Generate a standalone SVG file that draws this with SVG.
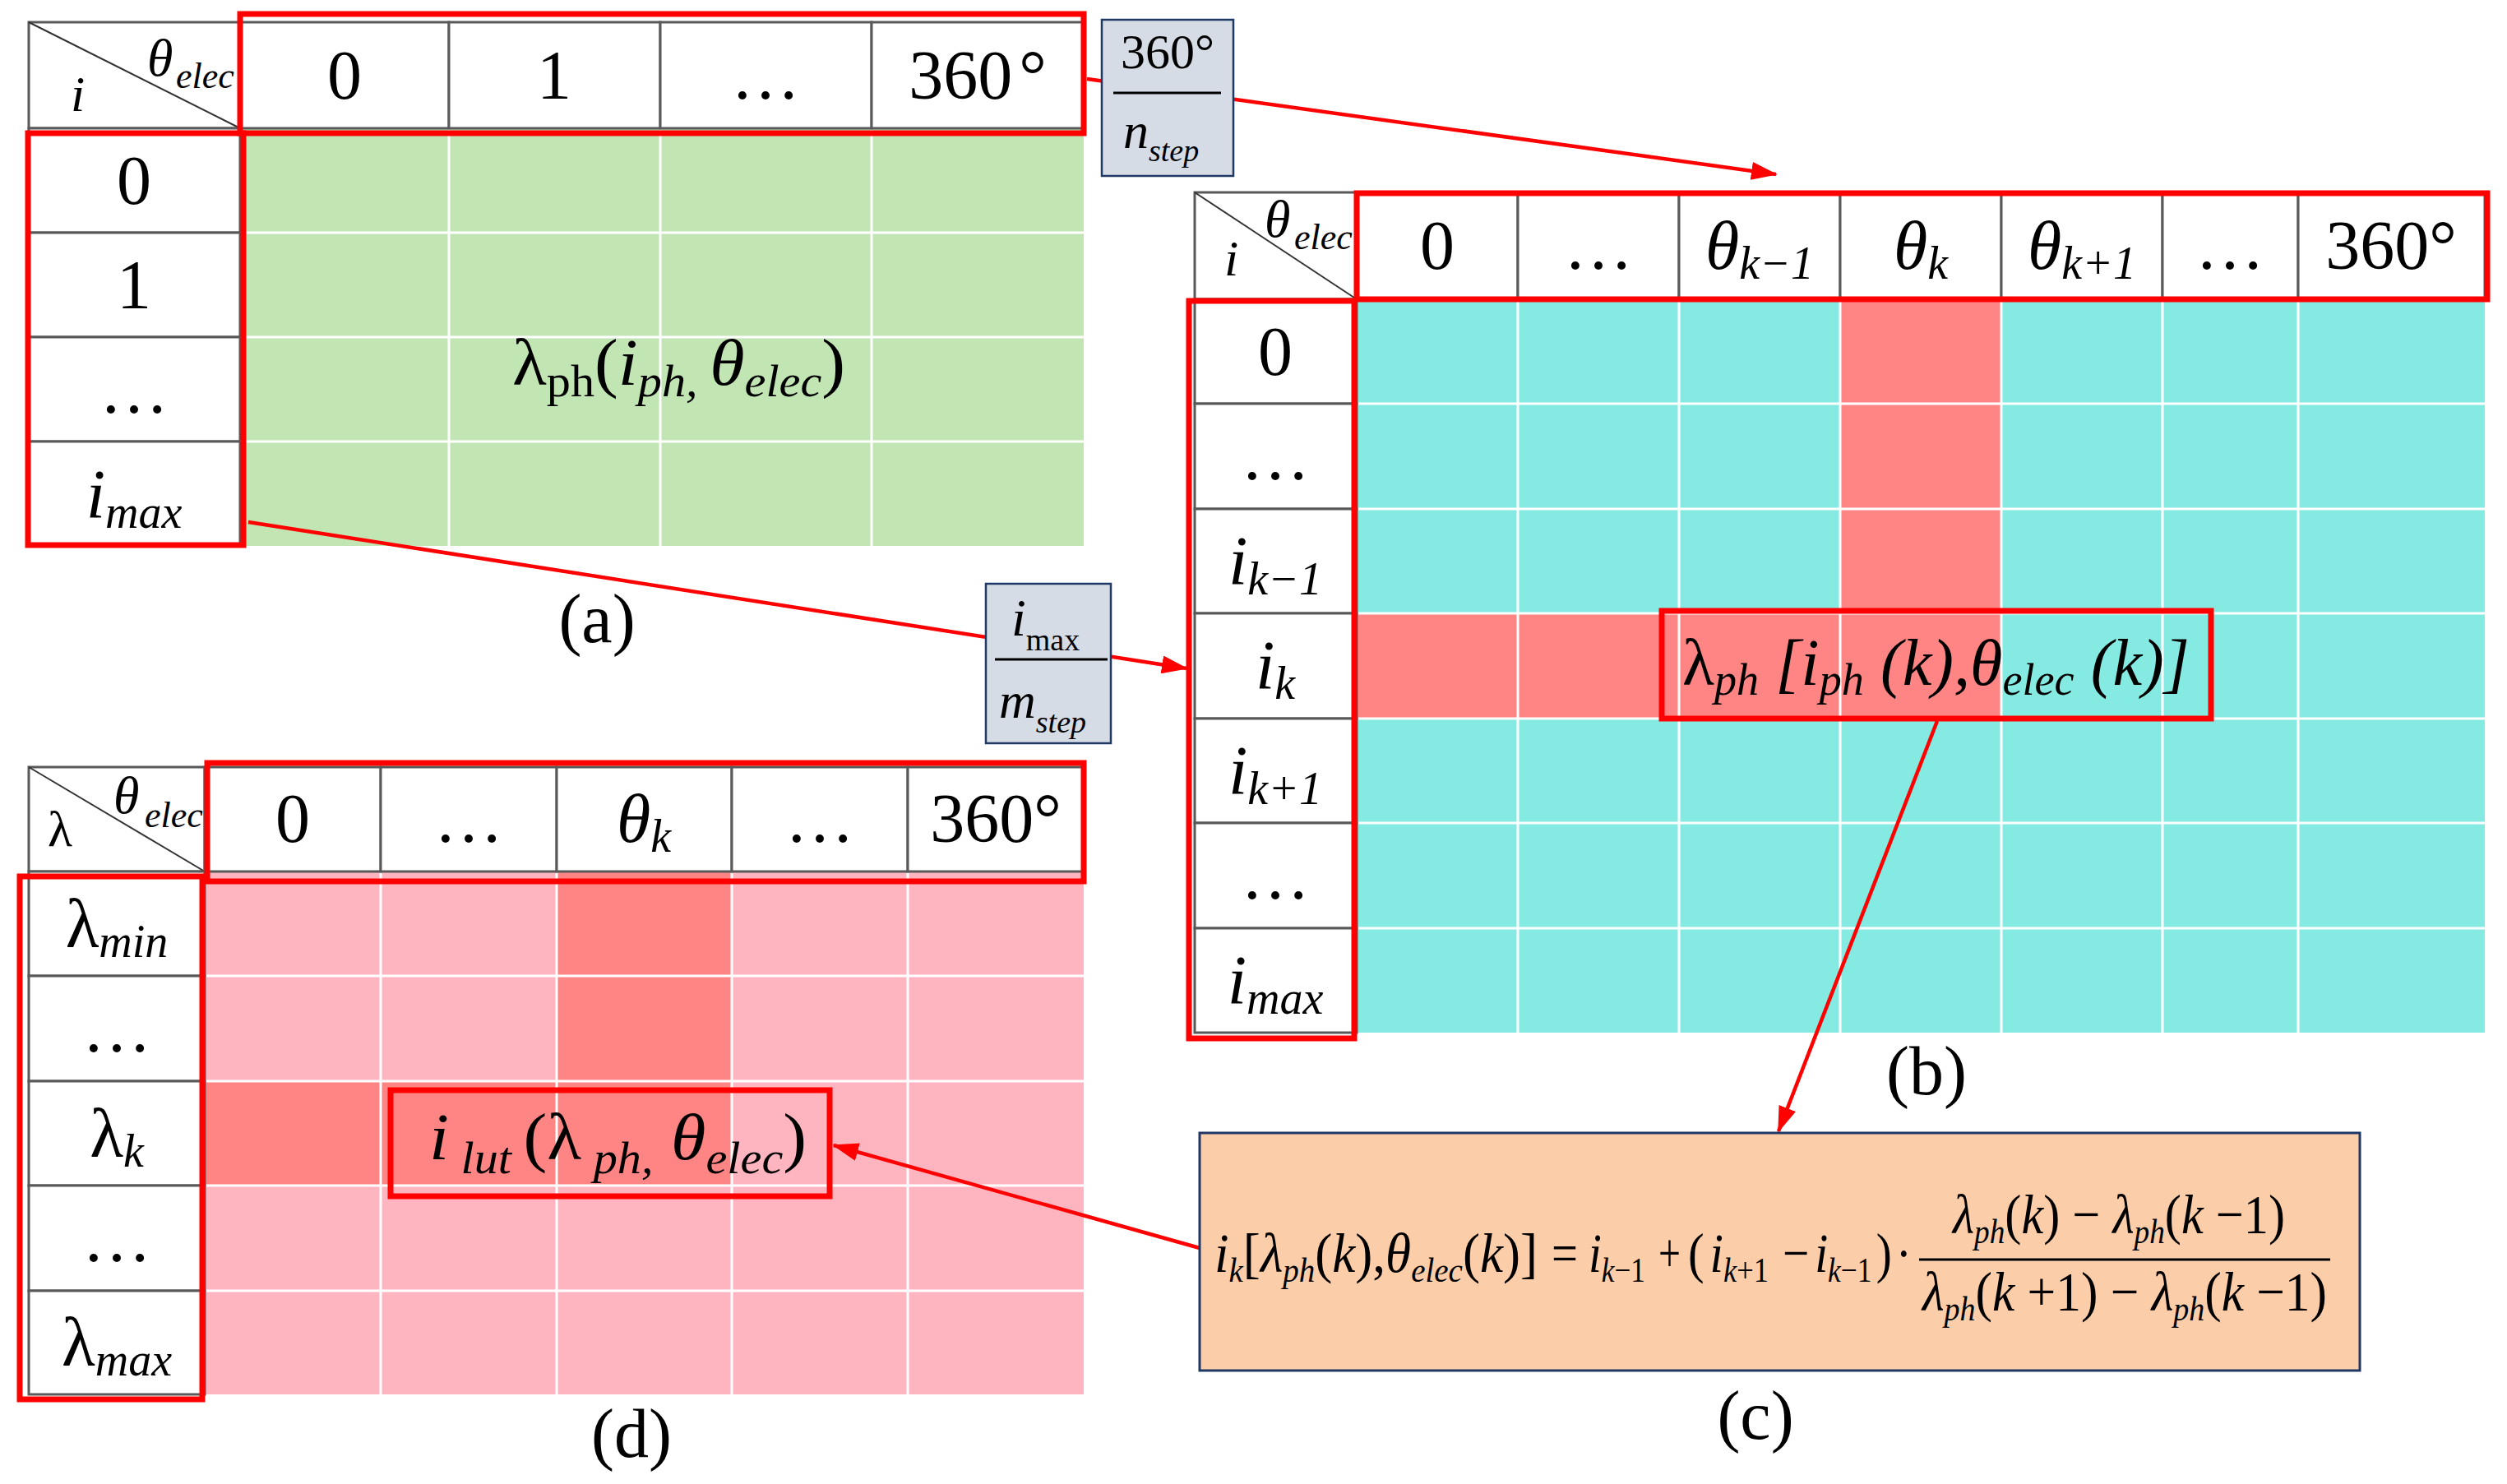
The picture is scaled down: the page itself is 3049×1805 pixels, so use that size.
<svg xmlns="http://www.w3.org/2000/svg" width="3049" height="1805" viewBox="0 0 3049 1805">
<style>
.t{font-family:"Liberation Serif","Times New Roman",serif;fill:#000}
.b{font-size:84px}
.it{font-style:italic}
.cell{fill:#fff;stroke:#595959;stroke-width:3}
.diag{stroke:#333;stroke-width:2}
.grid{stroke:#fff;stroke-width:3;fill:none}
.hl{fill:none;stroke:#FF0000;stroke-width:7}
.conn{stroke:#FF0000;stroke-width:4.5;fill:none;marker-end:url(#arr)}
.note{fill:#D6DCE5;stroke:#203864;stroke-width:2.5}
.fl{stroke:#000;stroke-width:3}
.eq{font-size:68px}
.sb{font-size:42px;font-style:italic}
.sn{font-size:42px}
</style>
<defs>
<marker id="arr" markerUnits="userSpaceOnUse" markerWidth="32" markerHeight="22" viewBox="0 0 32 22" refX="30" refY="11" orient="auto">
<path d="M0,0 L32,11 L0,22 z" fill="#FF0000"/>
</marker>
</defs>
<rect width="3049" height="1805" fill="#fff"/>

<g id="table-a">
<rect x="292" y="156" width="1026" height="508" fill="#C1E5B3"/>
<path class="grid" d="M546 156V664M803 156V664M1060 156V664M292 283H1318M292 410H1318M292 537H1318"/>
<rect class="cell" x="35" y="27" width="257" height="129"/>
<line class="diag" x1="35" y1="27" x2="292" y2="156"/>
<rect class="cell" x="292" y="27" width="254" height="129"/>
<rect class="cell" x="546" y="27" width="257" height="129"/>
<rect class="cell" x="803" y="27" width="257" height="129"/>
<rect class="cell" x="1060" y="27" width="258" height="129"/>
<rect class="cell" x="35" y="156" width="257" height="127"/>
<rect class="cell" x="35" y="283" width="257" height="127"/>
<rect class="cell" x="35" y="410" width="257" height="127"/>
<rect class="cell" x="35" y="537" width="257" height="127"/>
<text class="t it" x="179" y="92" font-size="64">θ</text>
<text class="t it" x="214" y="107" font-size="44">elec</text>
<text class="t it" x="86" y="135" font-size="62">i</text>
<text class="t b" x="419" y="120" text-anchor="middle">0</text>
<text class="t b" x="674" y="120" text-anchor="middle">1</text>
<text class="t b" x="931" y="120" text-anchor="middle">…</text>
<text class="t b" x="1189" y="120" text-anchor="middle">360<tspan dx="8">°</tspan></text>
<text class="t b" x="163" y="248" text-anchor="middle">0</text>
<text class="t b" x="163" y="375" text-anchor="middle">1</text>
<text class="t b" x="163" y="502" text-anchor="middle">…</text>
<text class="t b" x="163" y="630" text-anchor="middle"><tspan class="it">i</tspan><tspan class="it" font-size="56" dy="12">max</tspan></text>
<text class="t" x="623" y="468" font-size="80" textLength="405" lengthAdjust="spacingAndGlyphs">λ<tspan font-size="54" dy="14">ph</tspan><tspan dy="-14">(</tspan><tspan class="it">i</tspan><tspan class="it" font-size="54" dy="14">ph, </tspan><tspan class="it" dy="-14">θ</tspan><tspan class="it" font-size="54" dy="14">elec</tspan><tspan dy="-14">)</tspan></text>
<rect class="hl" x="292" y="17" width="1026" height="145"/>
<rect class="hl" x="34" y="162" width="262" height="501"/>
</g>

<g id="table-b">
<rect x="1650" y="364" width="1372" height="892" fill="#85EAE2"/>
<rect x="2238" y="364" width="196" height="382" fill="#FF8585"/>
<rect x="1650" y="746" width="784" height="128" fill="#FF8585"/>
<path class="grid" d="M1846 364V1256M2042 364V1256M2238 364V1256M2434 364V1256M2630 364V1256M2795 364V1256M1650 491H3022M1650 619H3022M1650 746H3022M1650 874H3022M1650 1001H3022M1650 1129H3022"/>
<rect class="cell" x="1453" y="234" width="197" height="130"/>
<line class="diag" x1="1453" y1="234" x2="1650" y2="364"/>
<rect class="cell" x="1650" y="234" width="196" height="130"/>
<rect class="cell" x="1846" y="234" width="196" height="130"/>
<rect class="cell" x="2042" y="234" width="196" height="130"/>
<rect class="cell" x="2238" y="234" width="196" height="130"/>
<rect class="cell" x="2434" y="234" width="196" height="130"/>
<rect class="cell" x="2630" y="234" width="165" height="130"/>
<rect class="cell" x="2795" y="234" width="227" height="130"/>
<rect class="cell" x="1453" y="364" width="197" height="127"/>
<rect class="cell" x="1453" y="491" width="197" height="128"/>
<rect class="cell" x="1453" y="619" width="197" height="127"/>
<rect class="cell" x="1453" y="746" width="197" height="128"/>
<rect class="cell" x="1453" y="874" width="197" height="127"/>
<rect class="cell" x="1453" y="1001" width="197" height="128"/>
<rect class="cell" x="1453" y="1129" width="197" height="127"/>
<text class="t it" x="1538" y="288" font-size="64">θ</text>
<text class="t it" x="1574" y="303" font-size="44">elec</text>
<text class="t it" x="1489" y="335" font-size="62">i</text>
<text class="t b" x="1748" y="327" text-anchor="middle">0</text>
<text class="t b" x="1944" y="327" text-anchor="middle">…</text>
<text class="t b" x="2140" y="327" text-anchor="middle"><tspan class="it">θ</tspan><tspan class="it" font-size="56" dy="12">k−1</tspan></text>
<text class="t b" x="2336" y="327" text-anchor="middle"><tspan class="it">θ</tspan><tspan class="it" font-size="56" dy="12">k</tspan></text>
<text class="t b" x="2532" y="327" text-anchor="middle"><tspan class="it">θ</tspan><tspan class="it" font-size="56" dy="12">k+1</tspan></text>
<text class="t b" x="2712" y="327" text-anchor="middle">…</text>
<text class="t b" x="2908" y="327" text-anchor="middle">360°</text>
<text class="t b" x="1551" y="456" text-anchor="middle">0</text>
<text class="t b" x="1551" y="583" text-anchor="middle">…</text>
<text class="t b" x="1551" y="711" text-anchor="middle"><tspan class="it">i</tspan><tspan class="it" font-size="56" dy="12">k−1</tspan></text>
<text class="t b" x="1551" y="838" text-anchor="middle"><tspan class="it">i</tspan><tspan class="it" font-size="56" dy="12">k</tspan></text>
<text class="t b" x="1551" y="966" text-anchor="middle"><tspan class="it">i</tspan><tspan class="it" font-size="56" dy="12">k+1</tspan></text>
<text class="t b" x="1551" y="1093" text-anchor="middle">…</text>
<text class="t b" x="1551" y="1221" text-anchor="middle"><tspan class="it">i</tspan><tspan class="it" font-size="56" dy="12">max</tspan></text>
<rect class="hl" x="1650" y="235" width="1375" height="129"/>
<rect class="hl" x="1446" y="366" width="201" height="897"/>
</g>

<g id="lambda-entry">
<text class="t" x="2046" y="833" font-size="80" textLength="617" lengthAdjust="spacingAndGlyphs">λ<tspan class="it" font-size="54" dy="12">ph</tspan><tspan class="it" dy="-12"> [i</tspan><tspan class="it" font-size="54" dy="12">ph</tspan><tspan class="it" dy="-12"> (k),θ</tspan><tspan class="it" font-size="54" dy="12">elec</tspan><tspan class="it" dy="-12"> (k)]</tspan></text>
<rect class="hl" x="2021" y="743" width="668" height="131"/>
</g>

<g id="table-d">
<rect x="249" y="1060" width="1069" height="636" fill="#FFB5C0"/>
<rect x="677" y="1060" width="213" height="255" fill="#FF8585"/>
<rect x="249" y="1315" width="641" height="127" fill="#FF8585"/>
<path class="grid" d="M463 1060V1696M677 1060V1696M890 1060V1696M1104 1060V1696M249 1187H1318M249 1315H1318M249 1442H1318M249 1570H1318"/>
<rect class="cell" x="35" y="933" width="214" height="127"/>
<line class="diag" x1="35" y1="933" x2="249" y2="1060"/>
<rect class="cell" x="249" y="933" width="214" height="127"/>
<rect class="cell" x="463" y="933" width="214" height="127"/>
<rect class="cell" x="677" y="933" width="213" height="127"/>
<rect class="cell" x="890" y="933" width="214" height="127"/>
<rect class="cell" x="1104" y="933" width="214" height="127"/>
<rect class="cell" x="35" y="1060" width="214" height="127"/>
<rect class="cell" x="35" y="1187" width="214" height="128"/>
<rect class="cell" x="35" y="1315" width="214" height="127"/>
<rect class="cell" x="35" y="1442" width="214" height="128"/>
<rect class="cell" x="35" y="1570" width="214" height="126"/>
<text class="t it" x="138" y="989" font-size="64">θ</text>
<text class="t it" x="176" y="1006" font-size="44">elec</text>
<text class="t" x="58" y="1029" font-size="62">λ</text>
<text class="t b" x="356" y="1024" text-anchor="middle">0</text>
<text class="t b" x="570" y="1024" text-anchor="middle">…</text>
<text class="t b" x="783" y="1024" text-anchor="middle"><tspan class="it">θ</tspan><tspan class="it" font-size="56" dy="12">k</tspan></text>
<text class="t b" x="997" y="1024" text-anchor="middle">…</text>
<text class="t b" x="1211" y="1024" text-anchor="middle">360°</text>
<text class="t b" x="142" y="1152" text-anchor="middle">λ<tspan class="it" font-size="56" dy="12">min</tspan></text>
<text class="t b" x="142" y="1279" text-anchor="middle">…</text>
<text class="t b" x="142" y="1407" text-anchor="middle">λ<tspan class="it" font-size="56" dy="12">k</tspan></text>
<text class="t b" x="142" y="1534" text-anchor="middle">…</text>
<text class="t b" x="142" y="1661" text-anchor="middle">λ<tspan class="it" font-size="56" dy="12">max</tspan></text>
<rect class="hl" x="252" y="928" width="1066" height="144"/>
<rect class="hl" x="24" y="1066" width="222" height="636"/>
</g>

<g id="lut-entry">
<text class="t" x="522" y="1410" font-size="80" textLength="459" lengthAdjust="spacingAndGlyphs"><tspan class="it">i</tspan><tspan class="it" font-size="54" dy="17"> lut </tspan><tspan dy="-17">(λ</tspan><tspan class="it" font-size="54" dy="17"> ph,</tspan><tspan class="it" dy="-17"> θ</tspan><tspan class="it" font-size="54" dy="17">elec</tspan><tspan dy="-17">)</tspan></text>
<rect class="hl" x="475" y="1326" width="534" height="129"/>
</g>

<g id="connectors">
<line class="conn" x1="1322" y1="96" x2="2160" y2="212"/>
<line class="conn" x1="302" y1="635" x2="1443" y2="813"/>
<line class="conn" x1="2356" y1="877" x2="2163" y2="1376"/>
<line class="conn" x1="1459" y1="1518" x2="1014" y2="1393"/>
</g>

<g id="step-theta">
<rect class="note" x="1340" y="24" width="160" height="190"/>
<text class="t" x="1420" y="83" font-size="60" text-anchor="middle">360°</text>
<line class="fl" x1="1354" y1="113" x2="1485" y2="113"/>
<text class="t it" x="1366" y="180" font-size="62">n<tspan font-size="38" dy="16">step</tspan></text>
</g>

<g id="step-current">
<rect class="note" x="1199" y="710" width="152" height="194"/>
<text class="t it" x="1230" y="773" font-size="64">i<tspan font-style="normal" font-size="38" dy="18">max</tspan></text>
<line class="fl" x1="1210" y1="802" x2="1347" y2="802"/>
<text class="t it" x="1215" y="873" font-size="62">m<tspan font-size="38" dy="18">step</tspan></text>
</g>

<g id="formula-c">
<rect x="1459" y="1378" width="1411" height="289" fill="#FCCDA9" stroke="#203864" stroke-width="3"/>
<text class="t eq" x="1477" y="1547" textLength="393" lengthAdjust="spacingAndGlyphs"><tspan class="it">i</tspan><tspan class="sb" dy="12">k</tspan><tspan dy="-12">[</tspan><tspan class="it">λ</tspan><tspan class="sb" dy="12">ph</tspan><tspan dy="-12">(</tspan><tspan class="it">k</tspan>),<tspan class="it">θ</tspan><tspan class="sb" dy="12">elec</tspan><tspan dy="-12">(</tspan><tspan class="it">k</tspan>)]</text>
<text class="t eq" x="1887" y="1547" textLength="32" lengthAdjust="spacingAndGlyphs">=</text>
<text class="t eq" x="1932" y="1547" textLength="69" lengthAdjust="spacingAndGlyphs"><tspan class="it">i</tspan><tspan class="sb" dy="12">k</tspan><tspan class="sn">−1</tspan></text>
<text class="t eq" x="2017" y="1547" textLength="27" lengthAdjust="spacingAndGlyphs">+</text>
<text class="t eq" x="2053" y="1547" textLength="98" lengthAdjust="spacingAndGlyphs">(<tspan class="it" dx="8">i</tspan><tspan class="sb" dy="12">k</tspan><tspan class="sn">+1</tspan></text>
<text class="t eq" x="2168" y="1547" textLength="157" lengthAdjust="spacingAndGlyphs">−<tspan class="it" dx="8">i</tspan><tspan class="sb" dy="12">k</tspan><tspan class="sn">−1</tspan><tspan dy="-12" dx="6">)</tspan><tspan dx="6">·</tspan></text>
<text class="t eq" x="2375" y="1500" textLength="404" lengthAdjust="spacingAndGlyphs"><tspan class="it">λ</tspan><tspan class="sb" dy="12">ph</tspan><tspan dy="-12">(</tspan><tspan class="it">k</tspan>) − <tspan class="it">λ</tspan><tspan class="sb" dy="12">ph</tspan><tspan dy="-12">(</tspan><tspan class="it">k</tspan> −1)</text>
<line class="fl" x1="2334" y1="1532" x2="2834" y2="1532"/>
<text class="t eq" x="2338" y="1594" textLength="492" lengthAdjust="spacingAndGlyphs"><tspan class="it">λ</tspan><tspan class="sb" dy="12">ph</tspan><tspan dy="-12">(</tspan><tspan class="it">k</tspan> +1) − <tspan class="it">λ</tspan><tspan class="sb" dy="12">ph</tspan><tspan dy="-12">(</tspan><tspan class="it">k</tspan> −1)</text>
</g>

<g id="labels">
<text class="t" x="726" y="781" font-size="84" text-anchor="middle">(a)</text>
<text class="t" x="2343" y="1331" font-size="84" text-anchor="middle">(b)</text>
<text class="t" x="2135" y="1750" font-size="84" text-anchor="middle">(c)</text>
<text class="t" x="768" y="1772" font-size="84" text-anchor="middle">(d)</text>
</g>
</svg>
